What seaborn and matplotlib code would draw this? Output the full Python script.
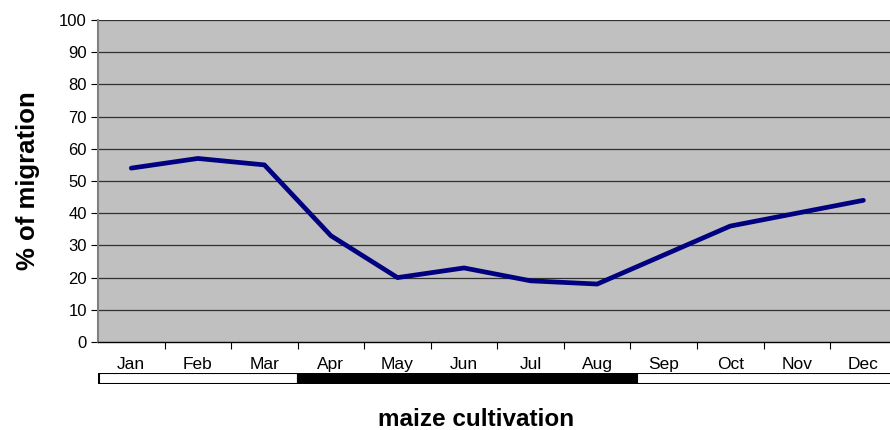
import pandas as pd
import matplotlib.pyplot as plt
import numpy as np
import seaborn as sns

months = ['Jan', 'Feb', 'Mar', 'Apr', 'May', 'Jun', 'Jul', 'Aug', 'Sep', 'Oct', 'Nov', 'Dec']
migration = [54, 57, 55, 33, 20, 23, 19, 18, 27, 36, 40, 44]

# maize cultivation strip (in month-index units)
season_start = [-0.48, 2.5, 7.6]
season_end = [2.5, 7.6, 11.6]
season_color = ['white', 'black', 'white']

sns.set_theme(style="white")
plt.rcParams['font.family'] = ['Liberation Sans', 'DejaVu Sans']
plt.rcParams['text.color'] = 'black'
plt.rcParams['xtick.color'] = 'black'
plt.rcParams['ytick.color'] = 'black'
plt.rcParams['axes.labelcolor'] = 'black'

data = pd.DataFrame({'month': months, 'migration': migration})

fig = plt.figure(figsize=(8.9, 4.3), dpi=100)
ax = fig.add_axes([98 / 890, 88 / 430, (890 - 98) / 890, 322 / 430])
ax.set_facecolor('#c0c0c0')

sns.lineplot(data=data, x='month', y='migration', color='#000080', linewidth=3.4, ax=ax,
             sort=False, solid_capstyle='round', solid_joinstyle='round')

ax.set_xlim(-0.5, 11.4)
ax.set_ylim(0, 100)
ax.set_yticks(range(0, 101, 10))
ax.tick_params(axis='y', labelsize=12, length=5, width=0.8, left=True, pad=3)
ax.set_xticks(range(12))
ax.set_xticklabels(months)
ax.set_xticks(np.arange(0.5, 11.5, 1), minor=True)
ax.tick_params(axis='x', which='major', length=0, labelsize=12.5, pad=11)
ax.tick_params(axis='x', which='minor', length=5, width=0.8, bottom=True)
for y in range(10, 101, 10):
    ax.axhline(y, color='#303030', linewidth=0.9, zorder=1)
for side in ['top', 'right']:
    ax.spines[side].set_visible(False)
ax.spines['left'].set_color('#808080')
ax.spines['left'].set_linewidth(1.5)
ax.spines['bottom'].set_color('black')
ax.spines['bottom'].set_linewidth(1)
ax.set_xlabel('')
ax.set_ylabel('% of migration', fontsize=18.5, fontweight='bold', labelpad=14)

# cultivation strip
ax2 = fig.add_axes([98 / 890, 46 / 430, (890 - 98) / 890, 11 / 430])
ax2.barh([0] * len(season_start), np.array(season_end) - np.array(season_start),
         left=season_start, color=season_color, edgecolor='black', linewidth=1.5, height=1)
ax2.set_xlim(-0.5, 11.4)
ax2.set_ylim(-0.5, 0.5)
ax2.axis('off')

fig.text(476 / 890, 4 / 430, 'maize cultivation', ha='center', va='baseline',
         fontsize=17.5, fontweight='bold')

plt.savefig('out.png', dpi=100)
